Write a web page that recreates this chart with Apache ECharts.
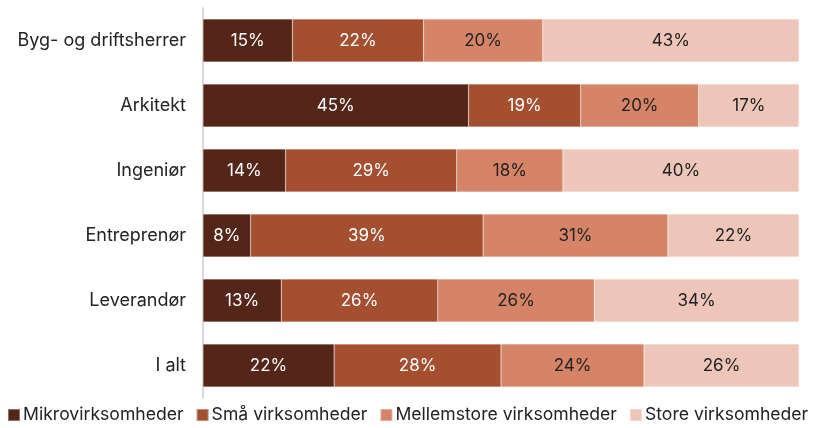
<!DOCTYPE html>
<html>
<head>
<meta charset="utf-8">
<script src="https://cdn.jsdelivr.net/npm/echarts@6/dist/echarts.min.js"></script>
<style>
  body { margin: 0; background: #fff; }
  #main { width: 827px; height: 428px; }
</style>
</head>
<body>
<div id="main"></div>
<script>
// kategorier (oppefra og ned)
const categories = ['Byg- og driftsherrer', 'Arkitekt', 'Ingeniør', 'Entreprenør', 'Leverandør', 'I alt']
const seriesNames = ['Mikrovirksomheder', 'Små virksomheder', 'Mellemstore virksomheder', 'Store virksomheder']
const mikro = [15, 45, 14, 8, 13, 22]
const smaa = [22, 19, 29, 39, 26, 28]
const mellem = [20, 20, 18, 31, 26, 24]
const store = [43, 17, 40, 22, 34, 26]

const colors = ['#542619', '#A54F31', '#D58468', '#EDC6B9']
const labelColors = ['#ffffff', '#ffffff', '#222222', '#222222']
const allData = [mikro, smaa, mellem, store]

// bars fylder hele bredden, så vi normaliserer hver række til 100
const rowSum = categories.map((c, i) => allData.reduce((s, arr) => s + arr[i], 0))

const series = allData.map((arr, k) => ({
  name: seriesNames[k],
  type: 'bar',
  stack: 'total',
  barCategoryGap: '34%',
  data: arr.map((v, i) => ({ value: v / rowSum[i] * 100, raw: v })),
  itemStyle: { color: colors[k], borderColor: 'rgba(255,255,255,0.35)', borderWidth: 0.5 },
  label: {
    show: true,
    position: 'inside',
    color: labelColors[k],
    fontFamily: 'Inter',
    fontSize: 17,
    formatter: p => p.data.raw + '%'
  }
}))

const chart = echarts.init(document.getElementById('main'))
chart.setOption({
  animation: false,
  color: colors,
  grid: { left: 203, right: 28, top: 8, bottom: 30, containLabel: false },
  xAxis: {
    type: 'value',
    min: 0,
    max: 100,
    show: false
  },
  yAxis: {
    type: 'category',
    inverse: true,
    data: categories,
    axisLine: { show: true, lineStyle: { color: '#d9d9d9', width: 2 } },
    axisTick: { show: false },
    axisLabel: { color: '#222', fontFamily: 'Inter', fontSize: 18, margin: 17 }
  },
  legend: {
    top: 406,
    left: 7,
    width: 820,
    padding: 0,
    icon: 'rect',
    itemWidth: 12,
    itemHeight: 12,
    itemGap: 12,
    textStyle: { color: '#222', fontFamily: 'Inter', fontSize: 17.6, padding: [0, 0, 0, -2] },
    data: seriesNames
  },
  series: series
})
</script>
</body>
</html>
